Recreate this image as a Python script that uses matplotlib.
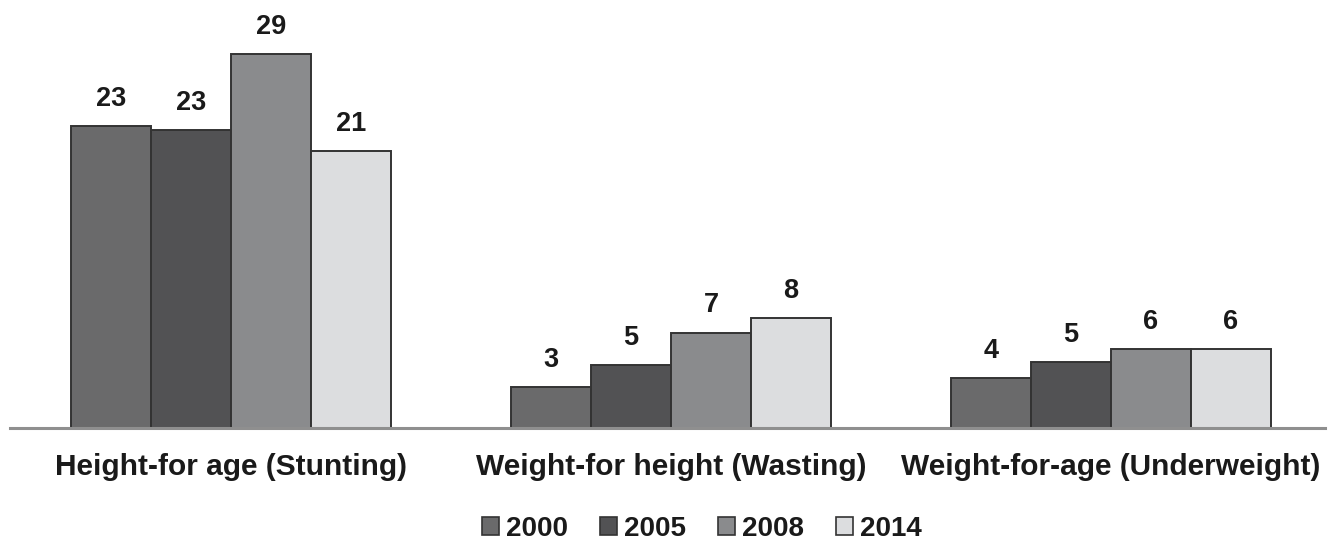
import numpy as np
import matplotlib.pyplot as plt
from matplotlib.patches import Patch

plt.rcParams['font.family'] = ['Liberation Sans', 'DejaVu Sans']

categories = ['Height-for age (Stunting)', 'Weight-for height (Wasting)', 'Weight-for-age (Underweight)']
years = ['2000', '2005', '2008', '2014']
# prevalence (%) per year
values = {
    '2000': [23.4, 3.2, 3.9],
    '2005': [23.1, 4.9, 5.1],
    '2008': [29.0, 7.4, 6.1],
    '2014': [21.5, 8.5, 6.1],
}
# labels as printed on the chart
labels = {
    '2000': [23, 3, 4],
    '2005': [23, 5, 5],
    '2008': [29, 7, 6],
    '2014': [21, 8, 6],
}
colors = ['#6a6a6b', '#525254', '#8a8b8d', '#dcdddf']

fig = plt.figure(figsize=(13.3, 5.43), dpi=100)
ax = fig.add_axes([10 / 1330, 115 / 543, 1315 / 1330, 428 / 543])

x = np.arange(len(categories))
w = 80 / 440
for i, yr in enumerate(years):
    pos = x + (i - 1.5) * w
    ax.bar(pos, values[yr], width=w, color=colors[i], edgecolor='#333333', linewidth=1.4, zorder=2)
    for px, v, lab in zip(pos, values[yr], labels[yr]):
        ax.annotate(str(lab), (px, v), xytext=(0, 14.5), textcoords='offset points',
                    ha='center', va='baseline', fontsize=19.5, fontweight='bold', color='#1a1a1a')

ax.set_xlim(-(231 - 10) / 440, (1325 - 231) / 440)
ax.set_ylim(0, 428 / 12.9)
ax.set_yticks([])
ax.set_xticks([])
for s in ['top', 'right', 'left']:
    ax.spines[s].set_visible(False)
ax.spines['bottom'].set_color('#8f8f8f')
ax.spines['bottom'].set_linewidth(2.2)

for xi, c in zip(x, categories):
    ax.text(xi, -39 / 12.9, c, ha='center', va='center', fontsize=21.5, fontweight='bold', color='#1a1a1a')

handles = [Patch(facecolor=c, edgecolor='#333333', linewidth=1.2, label=y) for c, y in zip(colors, years)]
leg = fig.legend(handles=handles, loc='center', bbox_to_anchor=(702 / 1330, 1 - 529 / 543), ncol=4,
                 frameon=False, handlelength=0.62, handleheight=0.62, handletextpad=0.25, columnspacing=1.15,
                 prop={'size': 20, 'weight': 'bold'})
for t in leg.get_texts():
    t.set_color('#1a1a1a')

fig.savefig('out.png', dpi=100)
